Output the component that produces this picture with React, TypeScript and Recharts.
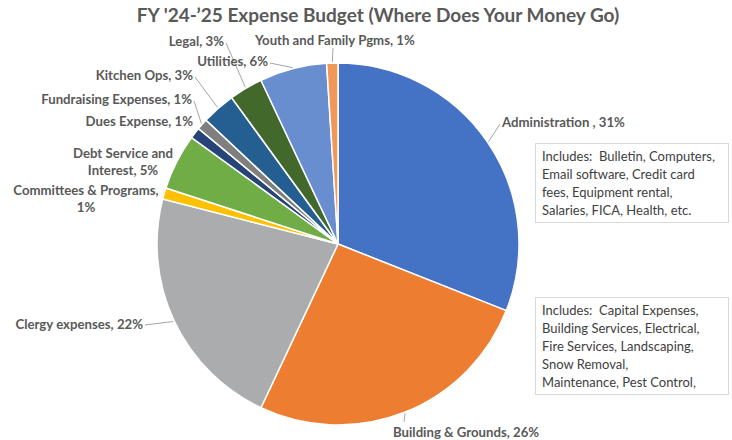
import React from "react";
import { Cell, Pie, PieChart } from "recharts";

const categories = [
  "Administration ",
  "Building & Grounds",
  "Clergy expenses",
  "Committees & Programs",
  "Debt Service and Interest",
  "Dues Expense",
  "Fundraising Expenses",
  "Kitchen Ops",
  "Legal",
  "Utilities",
  "Youth and Family Pgms",
];
const shares = [31, 26, 22, 1, 5, 1, 1, 3, 3, 6, 1];
const colors = [
  "#4472C4",
  "#ED7D31",
  "#ABACAE",
  "#FFC000",
  "#70AD47",
  "#264478",
  "#7F7F7F",
  "#255E91",
  "#43682B",
  "#698ED0",
  "#F1975A",
];
const title = "FY '24-\u201925 Expense Budget (Where Does Your Money Go)";
const adminNote = [
  "Includes:  Bulletin, Computers,",
  "Email software, Credit card",
  "fees, Equipment rental,",
  "Salaries, FICA, Health, etc.",
];
const buildingNote = [
  "Includes:  Capital Expenses,",
  "Building Services, Electrical,",
  "Fire Services, Landscaping,",
  "Snow Removal,",
  "Maintenance, Pest Control,",
];

const data = categories.map((name, i) => ({ name, value: shares[i] }));

const CX = 338;
const CY = 244;
const R = 181;
const RAD = Math.PI / 180;

// label placement, offsets from the pie centre (Excel "best fit" layout)
type Spot = {
  dx: number;
  dy: number;
  anchor: "start" | "middle" | "end";
  lines?: string[];
  lx?: number;
  ly?: number;
};
const spots: Spot[] = [
  { dx: 164, dy: -117, anchor: "start", lx: 162, ly: -120 },
  { dx: 55, dy: 193, anchor: "start", lx: 66, ly: 178 },
  { dx: -195, dy: 85, anchor: "end", lx: -193, ly: 81 },
  { dx: -252, dy: -49, anchor: "middle", lines: ["Committees & Programs,", "1%"] },
  { dx: -215, dy: -86, anchor: "middle", lines: ["Debt Service and", "Interest, 5%"] },
  { dx: -145, dy: -118, anchor: "end" },
  { dx: -146, dy: -140, anchor: "end", lx: -144, ly: -143 },
  { dx: -145, dy: -164, anchor: "end", lx: -143, ly: -167 },
  { dx: -114, dy: -198, anchor: "end", lx: -112, ly: -201 },
  { dx: -70, dy: -178, anchor: "end", lx: -68, ly: -181 },
  { dx: -83, dy: -199, anchor: "start", lx: -5, ly: -196 },
];

const renderLabel = (props: any) => {
  const { cx, cy, midAngle, outerRadius, percent, index, name } = props;
  const s = spots[index];
  const tx = cx + s.dx;
  const ty = cy + s.dy;
  const lines = s.lines ?? [`${name}, ${Math.round(percent * 100)}%`];
  const ex = cx + Math.cos(-midAngle * RAD) * (outerRadius + 1);
  const ey = cy + Math.sin(-midAngle * RAD) * (outerRadius + 1);
  return (
    <g key={`lbl-${index}`}>
      {s.lx !== undefined && (
        <polyline
          points={`${cx + s.lx},${cy + (s.ly ?? 0)} ${ex},${ey}`}
          stroke="#A6A6A6"
          strokeWidth={1}
          fill="none"
        />
      )}
      <text
        x={tx}
        y={ty}
        textAnchor={s.anchor}
        fill="#595959"
        fontSize={13.2}
        fontWeight={700}
        fontFamily="Lato, 'Open Sans', sans-serif"
      >
        {lines.map((l, i) => (
          <tspan key={i} x={tx} dy={i === 0 ? 0 : 17}>
            {l}
          </tspan>
        ))}
      </text>
    </g>
  );
};

const boxStyle: React.CSSProperties = {
  position: "absolute",
  left: 535,
  width: 194,
  border: "1px solid #D9D9D9",
  background: "#fff",
  boxSizing: "border-box",
  padding: "3px 0 0 6px",
  fontFamily: "Lato, 'Open Sans', sans-serif",
  fontSize: 13,
  lineHeight: "18px",
  color: "#404040",
  whiteSpace: "pre",
};

export default function App() {
  return (
    <div
      style={{
        position: "absolute",
        left: 0,
        top: 0,
        width: 732,
        height: 440,
        background: "#fff",
        overflow: "hidden",
      }}
    >
      <div
        style={{
          position: "absolute",
          left: 0,
          top: 3,
          width: 756,
          textAlign: "center",
          fontFamily: "Lato, 'Open Sans', sans-serif",
          fontWeight: 700,
          fontSize: 19,
          color: "#595959",
        }}
      >
        {title}
      </div>
      <PieChart
        width={732}
        height={440}
        margin={{ top: 0, right: 0, bottom: 0, left: 0 }}
        style={{ position: "absolute", left: 0, top: 0 }}
      >
        <Pie
          data={data}
          dataKey="value"
          nameKey="name"
          cx={CX}
          cy={CY}
          outerRadius={R}
          startAngle={90}
          endAngle={-270}
          stroke="#fff"
          strokeWidth={1.5}
          label={renderLabel}
          labelLine={false}
          isAnimationActive={false}
        >
          {data.map((d, i) => (
            <Cell key={d.name} fill={colors[i]} />
          ))}
        </Pie>
      </PieChart>
      <div style={{ ...boxStyle, top: 143, height: 80 }}>
        {adminNote.map((l) => (
          <div key={l}>{l}</div>
        ))}
      </div>
      <div style={{ ...boxStyle, top: 297, height: 98 }}>
        {buildingNote.map((l) => (
          <div key={l}>{l}</div>
        ))}
      </div>
    </div>
  );
}
